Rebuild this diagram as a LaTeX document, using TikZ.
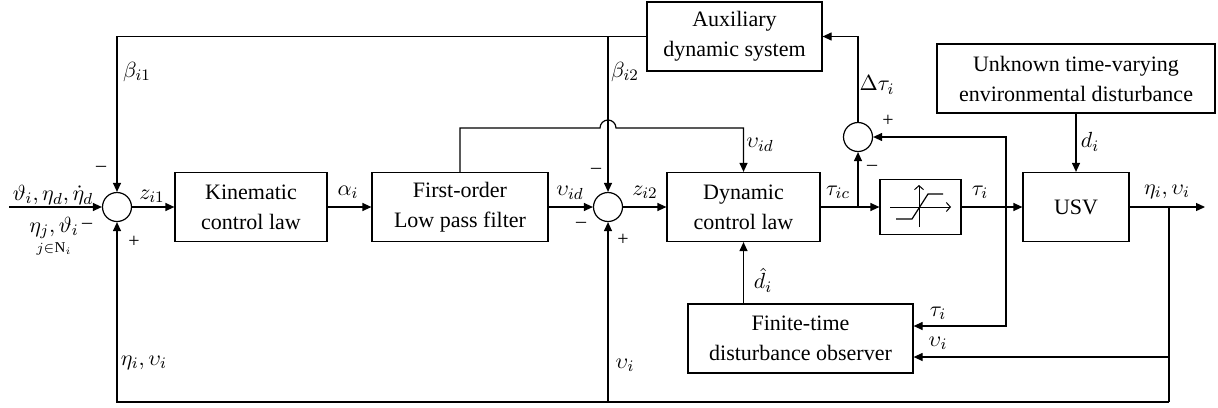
\documentclass[tikz,border=0pt]{standalone}
\usepackage{fontspec}
\setmainfont{Liberation Serif}
\usetikzlibrary{arrows.meta}
\begin{document}
\begin{tikzpicture}[x=0.5pt,y=-0.5pt,
  blk/.style={draw, line width=0.6pt, align=center, inner sep=0pt, font=\rmfamily\fontsize{11}{15}\selectfont},
  sumc/.style={draw, circle, minimum size=14.5pt, inner sep=0pt, line width=0.6pt},
  lbl/.style={font=\fontsize{11}{12}\selectfont, inner sep=0pt},
  sgn/.style={font=\rmfamily\fontsize{10}{12}\selectfont, inner sep=0pt},
  wire/.style={line width=0.6pt},
  arr/.style={wire, -{Triangle[length=4.5pt,width=4pt]}},
  sarr/.style={line width=0.5pt, -{Straight Barb[length=2pt,width=4.5pt]}},
]
\useasboundingbox (0,0) rectangle (1218,407);

% blocks
\node[sumc] (s1) at (117,207) {};
\node[blk, minimum width=76pt, minimum height=34.5pt] (kin) at (251,207) {Kinematic\\control law};
\node[blk, minimum width=88pt, minimum height=34.5pt] (fo) at (460,207) {First-order\\Low pass filter};
\node[sumc] (s2) at (608,207) {};
\node[blk, minimum width=76.5pt, minimum height=34.5pt] (dyn) at (743.5,207) {Dynamic\\control law};
\node[sumc] (s3) at (858,137) {};
\node[blk, minimum width=40.5pt, minimum height=27.5pt] (sat) at (920.5,207) {};
\node[blk, minimum width=53pt, minimum height=34.5pt] (usv) at (1076,207) {USV};
\node[blk, minimum width=87.5pt, minimum height=34.5pt] (aux) at (734.5,36.5) {Auxiliary\\dynamic system};
\node[blk, minimum width=139pt, minimum height=34.5pt] (env) at (1076,78.5) {Unknown time-varying\\environmental disturbance};
\node[blk, minimum width=112.5pt, minimum height=34.5pt] (obs) at (800.5,338.5) {Finite-time\\disturbance observer};

% saturation symbol
\begin{scope}[shift={(sat.center)}]
  \draw[sarr] (-30.5,0) -- (30.5,0);
  \draw[sarr] (-1.5,20) -- (-1.5,-22);
  \draw[line width=0.6pt] (-24.5,12) -- (-8.5,12) -- (7.5,-13) -- (22.5,-13);
\end{scope}

% coordinates
\coordinate (in) at (9,207);
\coordinate (out) at (1205,207);
\coordinate (ptop1) at (117,36.5);
\coordinate (ptop2) at (608,36.5);
\coordinate (pbot1) at (117,402);
\coordinate (pbot2) at (608,402);
\coordinate (pbr) at (1169,402);
\coordinate (pbranch) at (1169,207);
\coordinate (pv) at (1169,357);
\coordinate (tauT) at (1006,137);
\coordinate (tauM) at (1006,207);
\coordinate (tauB) at (1006,326);
\coordinate (tic) at (858,207);
\coordinate (s3up) at (858,36.5);
\coordinate (fo1) at (460,128);
\coordinate (hopL) at (600,128);
\coordinate (vidR) at (743.5,128);

% main path
\draw[arr] (in) -- (s1);
\draw[arr] (s1) -- (kin);
\draw[arr] (kin) -- (fo);
\draw[arr] (fo) -- (s2);
\draw[arr] (s2) -- (dyn);
\draw[arr] (dyn) -- (sat);
\draw[arr] (sat) -- (usv);
\draw[arr] (usv) -- (out);

% feedback
\draw[arr] (aux.west) -- (ptop1) -- (s1);
\draw[arr] (ptop2) -- (s2);
\draw[wire] (pbranch) -- (pbr);
\draw[arr] (pbr) -- (pbot1) -- (s1);
\draw[arr] (pbot2) -- (s2);
\draw[arr] (pv) -- (obs.east |- pv);
\draw[arr] (tauM) -- (tauT) -- (s3);
\draw[arr] (tauM) -- (tauB) -- (obs.east |- tauB);
\draw[arr] (tic) -- (s3);
\draw[arr] (s3) -- (s3up) -- (aux.east);
\draw[arr] (fo.north) -- (fo1) -- (hopL) arc[start angle=180, end angle=0, radius=4pt] -- (vidR) -- (dyn.north);
\draw[arr] (env) -- (usv);
\draw[arr] (obs.north -| dyn.south) -- (dyn.south);

% labels
\node[lbl] (l1) at (53,195) {$\vartheta_i, \eta_d, \dot{\eta}_d$};
\node[lbl] (l2) at (54,228) {$\eta_j, \vartheta_i$};
\node[sgn] (l2s) at (87,226) {–};
\node[lbl, font=\fontsize{7.5}{9}\selectfont] (l3) at (54,249) {$j{\in}\mathrm{N}_i$};
\node[sgn] (s1m) at (101,169) {–};
\node[sgn] (s1p) at (134,242) {+};
\node[lbl] (lz1) at (152,196) {$z_{i1}$};
\node[lbl] (lb1) at (137,72) {$\beta_{i1}$};
\node[lbl] (lev) at (144,363) {$\eta_i, \upsilon_i$};
\node[lbl] (la) at (348,192) {$\alpha_i$};
\node[lbl] (lv1) at (570,193) {$\upsilon_{id}$};
\node[lbl] (lz2) at (645,192) {$z_{i2}$};
\node[sgn] (s2m1) at (596,171) {–};
\node[sgn] (s2m2) at (581,225) {–};
\node[sgn] (s2p) at (623,240) {+};
\node[lbl] (lb2) at (625,72) {$\beta_{i2}$};
\node[lbl] (lv2) at (760,145) {$\upsilon_{id}$};
\node[lbl] (ltic) at (838,192) {$\tau_{ic}$};
\node[lbl] (lti) at (980,192) {$\tau_i$};
\node[sgn] (s3p) at (888,121) {+};
\node[sgn] (s3m) at (872,168) {–};
\node[lbl] (ldt) at (877,85) {$\Delta\tau_i$};
\node[lbl] (ld) at (1090,142) {$d_i$};
\node[lbl] (lout) at (1167,192) {$\eta_i, \upsilon_i$};
\node[lbl] (ldh) at (763,280) {$\hat{d}_i$};
\node[lbl] (lv3) at (625,365) {$\upsilon_i$};
\node[lbl] (lt2) at (938,313) {$\tau_i$};
\node[lbl] (lv4) at (938,343) {$\upsilon_i$};
\end{tikzpicture}
\end{document}
